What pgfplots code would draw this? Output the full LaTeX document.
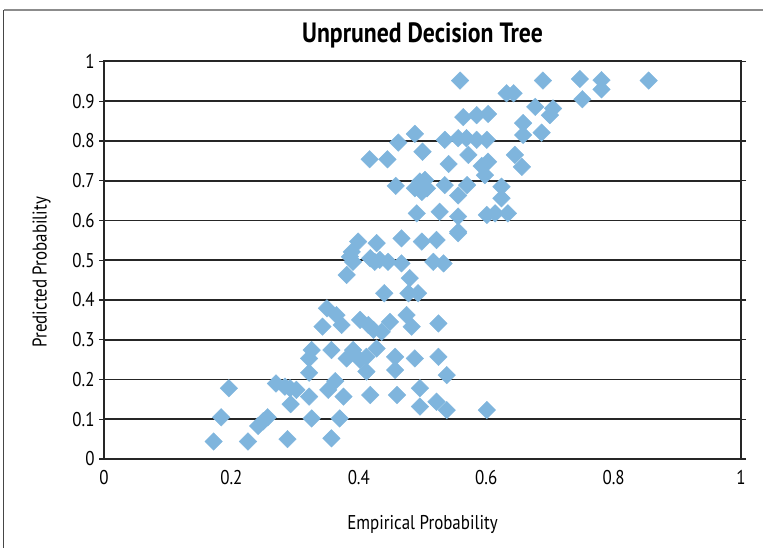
\documentclass[border=0pt]{standalone}
\usepackage{fontspec}
\setmainfont{PT Sans}[FakeStretch=0.85]
\usepackage{pgfplots}
\pgfplotsset{compat=1.18}
\definecolor{pt}{HTML}{7FB5DD}
\definecolor{gridc}{HTML}{262626}
\pgfplotstableread{
x y
0.196 0.178
0.184 0.105
0.172 0.044
0.226 0.044
0.242 0.083
0.250 0.095
0.257 0.105
0.288 0.050
0.270 0.190
0.284 0.182
0.292 0.178
0.302 0.174
0.293 0.138
0.322 0.217
0.326 0.274
0.322 0.253
0.322 0.157
0.326 0.102
0.357 0.274
0.357 0.052
0.363 0.196
0.352 0.174
0.376 0.157
0.343 0.333
0.350 0.379
0.365 0.362
0.373 0.337
0.370 0.102
0.381 0.253
0.391 0.274
0.402 0.249
0.412 0.257
0.412 0.220
0.428 0.278
0.457 0.257
0.457 0.224
0.488 0.253
0.525 0.257
0.538 0.211
0.418 0.161
0.460 0.161
0.496 0.178
0.496 0.132
0.522 0.144
0.538 0.123
0.601 0.123
0.402 0.350
0.415 0.337
0.423 0.325
0.436 0.320
0.449 0.345
0.475 0.362
0.483 0.333
0.525 0.341
0.399 0.547
0.389 0.521
0.386 0.509
0.391 0.496
0.381 0.463
0.428 0.543
0.467 0.555
0.499 0.547
0.522 0.551
0.556 0.568
0.418 0.505
0.433 0.501
0.446 0.496
0.425 0.496
0.467 0.492
0.517 0.496
0.533 0.492
0.480 0.455
0.440 0.417
0.478 0.417
0.493 0.417
0.491 0.618
0.527 0.622
0.556 0.610
0.601 0.614
0.614 0.618
0.634 0.618
0.458 0.687
0.496 0.698
0.504 0.702
0.499 0.672
0.507 0.681
0.488 0.681
0.535 0.689
0.556 0.663
0.570 0.689
0.624 0.685
0.624 0.656
0.598 0.714
0.593 0.737
0.603 0.748
0.645 0.765
0.656 0.735
0.572 0.765
0.541 0.742
0.500 0.773
0.417 0.754
0.445 0.754
0.462 0.796
0.488 0.818
0.535 0.803
0.556 0.807
0.569 0.807
0.585 0.803
0.601 0.803
0.658 0.845
0.658 0.815
0.687 0.821
0.564 0.860
0.585 0.865
0.603 0.868
0.677 0.886
0.705 0.882
0.700 0.865
0.632 0.920
0.643 0.920
0.559 0.952
0.689 0.952
0.747 0.956
0.751 0.905
0.781 0.953
0.781 0.930
0.855 0.952
0.556 0.572
}\datatable
\begin{document}
\begin{tikzpicture}
\useasboundingbox (-104bp,-89bp) rectangle (659bp,459bp);
\draw[gray!55!black, line width=1bp] (-100bp,-89bp) -- (-100bp,449bp);
\draw[gray!90, line width=2bp] (-100bp,449bp) -- (659bp,449bp);
\begin{axis}[
  scale only axis,
  width=637bp, height=397.5bp,
  xmin=0, xmax=1, ymin=0, ymax=1,
  xtick={0,0.2,0.4,0.6,0.8,1},
  ytick={0,0.1,0.2,0.3,0.4,0.5,0.6,0.7,0.8,0.9,1},
  yticklabels={0,0.1,0.2,0.3,0.4,0.5,0.6,0.7,0.8,0.9,1},
  xticklabels={0,0.2,0.4,0.6,0.8,1},
  ymajorgrids,
  grid style={gridc, line width=1.7bp},
  axis line style={gridc, line width=2bp},
  tick align=outside,
  major tick length=5bp,
  xtick style={draw=none},
  ytick style={gridc, line width=1.4bp},
  ticklabel style={font=\fontsize{20}{20}\selectfont},
  xticklabel style={yshift=-3bp},
  yticklabel style={xshift=-1bp},
  /pgf/number format/assume math mode=true,
  title={\bfseries Unpruned Decision Tree},
  title style={font=\fontsize{28}{28}\selectfont, at={(axis description cs:0.5,1.05)}, anchor=center},
  xlabel={Empirical Probability},
  xlabel style={font=\fontsize{20}{20}\selectfont, at={(axis description cs:0.5,-0.166)}, anchor=center},
  ylabel={Predicted Probability},
  ylabel style={font=\fontsize{20}{20}\selectfont, at={(axis description cs:-0.098,0.47)}, anchor=center},
]
\addplot[only marks, mark=square*, mark size=6.2bp,
  mark options={rotate=45, fill=pt, draw=pt}] table[x=x, y=y] {\datatable};
\end{axis}
\end{tikzpicture}
\end{document}
